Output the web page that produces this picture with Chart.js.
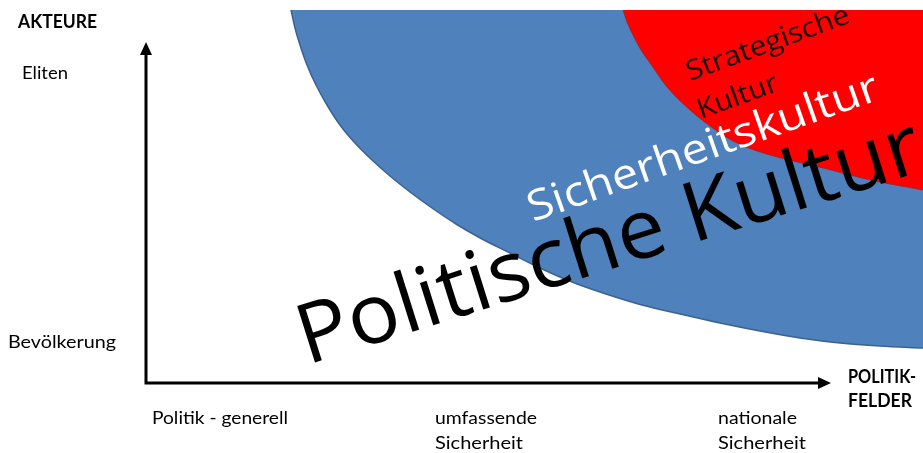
<!DOCTYPE html>
<html>
<head>
<meta charset="utf-8">
<script src="https://cdn.jsdelivr.net/npm/chart.js@4.4.0/dist/chart.umd.min.js"></script>
<style>
  html, body { margin: 0; padding: 0; background: #fff; }
  #wrap { width: 923px; height: 453px; }
</style>
</head>
<body>
<div id="wrap"><canvas id="diagram"></canvas></div>
<script>
// boundary of the two cultural zones (image units, y down)
const blueX = [291, 295, 300, 307, 316, 327, 340, 355, 372, 390, 410, 432, 456, 482, 510, 540, 572, 606, 642, 680, 720, 760, 800, 840, 880, 923];
const blueY = [10, 28, 45, 65, 85, 105, 125, 143, 160, 176, 192, 208, 224, 239, 253, 268, 282, 294, 305, 314, 323, 331, 338, 343, 346, 348];
const redX = [623, 627, 633, 641, 650, 667, 690, 710, 733, 760, 793, 827, 870, 923];
const redY = [10, 22, 35, 50, 63, 87, 110, 126, 141, 152, 161, 169, 180, 190];
const TOP_EDGE = 10;

// axes
const axisOrigin = [146, 383];
const yAxisTip = 42;
const xAxisTip = 831;

// labels
const yAxisTitle = 'AKTEURE';
const yTickLabels = ['Eliten', 'Bevölkerung'];
const xAxisTitle = ['POLITIK-', 'FELDER'];
const xTickLabels = [['Politik - generell'], ['umfassende', 'Sicherheit'], ['nationale', 'Sicherheit']];
const zoneLabels = ['Politische Kultur', 'Sicherheitskultur', 'Strategische', 'Kultur'];

const toPoints = (xs, ys) => xs.map((v, i) => ({x: v, y: ys[i]}));

// --- text helpers ---
function squeezeText(ctx, text, x, y, w, font) {
  ctx.save();
  ctx.font = font;
  const m = ctx.measureText(text).width;
  ctx.translate(x, y);
  ctx.scale(w / m, 1);
  ctx.fillText(text, 0, 0);
  ctx.restore();
}

// rotated text of a given font size, squeezed to a given length
function slantText(ctx, text, x, y, len, size, deg, color) {
  ctx.save();
  ctx.font = size + 'px "Open Sans", sans-serif';
  const m = ctx.measureText(text).width;
  ctx.fillStyle = color;
  ctx.translate(x, y);
  ctx.rotate(-deg * Math.PI / 180);
  ctx.scale(len / m, 1);
  ctx.fillText(text, 0, 0);
  ctx.restore();
}

const overlay = {
  id: 'overlay',
  afterDatasetsDraw(chart) {
    const {ctx, scales: {x, y}} = chart;
    const px = v => x.getPixelForValue(v);
    const py = v => y.getPixelForValue(v);

    // zone names
    slantText(ctx, zoneLabels[0], px(307), py(365), 650, 83, 17.5, '#000');
    slantText(ctx, zoneLabels[1], px(533), py(222), 370, 42, 19.5, '#fff');
    slantText(ctx, zoneLabels[2], px(690), py(81), 172, 28, 20, '#1a0a0a');
    slantText(ctx, zoneLabels[3], px(701), py(119), 84, 28, 20, '#1a0a0a');

    // axes with arrowheads
    ctx.save();
    ctx.strokeStyle = '#000';
    ctx.fillStyle = '#000';
    ctx.lineWidth = 3;
    const ox = px(axisOrigin[0]), oy = py(axisOrigin[1]);
    const ty = py(yAxisTip), tx = px(xAxisTip);
    ctx.beginPath();
    ctx.moveTo(ox, ty + 10);
    ctx.lineTo(ox, oy);
    ctx.lineTo(tx - 10, oy);
    ctx.stroke();
    ctx.beginPath();
    ctx.moveTo(ox, ty);
    ctx.lineTo(ox - 6, ty + 13);
    ctx.lineTo(ox + 6, ty + 13);
    ctx.closePath();
    ctx.fill();
    ctx.beginPath();
    ctx.moveTo(tx, oy);
    ctx.lineTo(tx - 13, oy - 6);
    ctx.lineTo(tx - 13, oy + 6);
    ctx.closePath();
    ctx.fill();

    // axis labels
    const reg = '18px Lato, sans-serif';
    const bold = 'bold 18px Lato, sans-serif';
    squeezeText(ctx, yAxisTitle, px(18), py(28), 79, bold);
    squeezeText(ctx, yTickLabels[0], px(22), py(79), 46, reg);
    squeezeText(ctx, yTickLabels[1], px(8), py(348), 108, reg);
    squeezeText(ctx, xAxisTitle[0], px(848), py(383), 68, bold);
    squeezeText(ctx, xAxisTitle[1], px(848), py(407), 64, bold);
    squeezeText(ctx, xTickLabels[0][0], px(152), py(424), 136, reg);
    squeezeText(ctx, xTickLabels[1][0], px(435), py(424), 102, reg);
    squeezeText(ctx, xTickLabels[1][1], px(435), py(449), 88, reg);
    squeezeText(ctx, xTickLabels[2][0], px(718), py(424), 79, reg);
    squeezeText(ctx, xTickLabels[2][1], px(718), py(449), 88, reg);
    ctx.restore();
  }
};

new Chart(document.getElementById('diagram'), {
  type: 'scatter',
  data: {
    datasets: [{
      label: 'Strategische Kultur',
      data: toPoints(redX, redY),
      showLine: true,
      cubicInterpolationMode: 'monotone',
      borderColor: 'rgba(140, 40, 40, 0.7)',
      borderWidth: 1,
      backgroundColor: '#ff0000',
      fill: {value: TOP_EDGE},
      pointRadius: 0,
      order: 0
    }, {
      label: 'Sicherheitskultur',
      data: toPoints(blueX, blueY),
      showLine: true,
      cubicInterpolationMode: 'monotone',
      borderColor: '#3b6290',
      borderWidth: 1.5,
      backgroundColor: '#4f81bd',
      fill: {value: TOP_EDGE},
      pointRadius: 0,
      order: 1
    }]
  },
  options: {
    responsive: true,
    maintainAspectRatio: false,
    animation: false,
    layout: { padding: 0 },
    plugins: { legend: { display: false }, tooltip: { enabled: false } },
    scales: {
      x: { type: 'linear', min: 0, max: 923, display: false },
      y: { type: 'linear', min: 0, max: 453, reverse: true, display: false }
    }
  },
  plugins: [overlay]
});
</script>
</body>
</html>
